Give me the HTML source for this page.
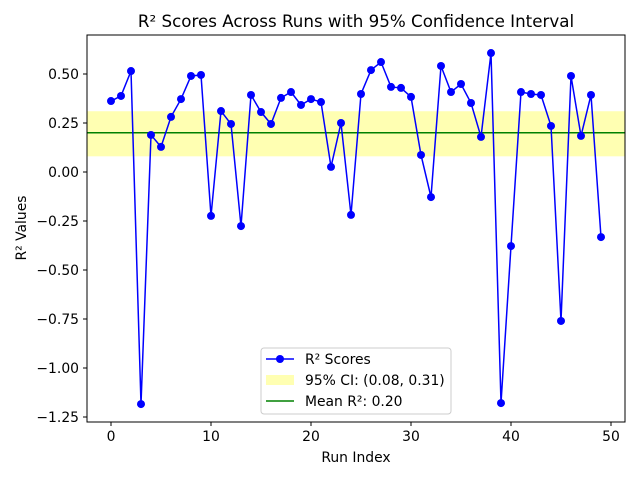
<!DOCTYPE html>
<html><head><meta charset="utf-8"><style>
body{margin:0;background:#fff;}
svg text{font-family:"DejaVu Sans","Liberation Sans",sans-serif;}
</style></head><body>
<svg id="chart" width="640" height="480" xmlns="http://www.w3.org/2000/svg">
<rect width="640" height="480" fill="#fff"/>
<text x="356" y="27" font-size="16.7" text-anchor="middle">R² Scores Across Runs with 95% Confidence Interval</text>
<g id="plot"></g>
<text x="356" y="462" font-size="13.9" text-anchor="middle">Run Index</text>
<text transform="translate(26,228) rotate(-90)" font-size="13.9" text-anchor="middle">R² Values</text>
<g>
<rect x="261" y="348" width="190" height="66" rx="3" fill="#fff" fill-opacity="0.8" stroke="#ccc"/>
<line x1="266" y1="359" x2="294" y2="359" stroke="blue" stroke-width="1.5"/>
<circle cx="280" cy="359" r="4" fill="blue"/>
<text x="305" y="364" font-size="13.9">R² Scores</text>
<rect x="266" y="375" width="28" height="10" fill="yellow" fill-opacity="0.3"/>
<text x="305" y="385" font-size="13.9">95% CI: (0.08, 0.31)</text>
<line x1="266" y1="401" x2="294" y2="401" stroke="green" stroke-width="1.5"/>
<text x="305" y="406" font-size="13.9">Mean R²: 0.20</text>
</g>
</svg>
<script>
const scores=[0.362,0.388,0.515,-1.184,0.189,0.128,0.281,0.372,0.49,0.495,-0.224,0.311,0.245,-0.276,0.393,0.306,0.245,0.378,0.408,0.342,0.372,0.357,0.026,0.25,-0.219,0.398,0.52,0.561,0.434,0.429,0.383,0.087,-0.128,0.541,0.408,0.449,0.352,0.179,0.607,-1.179,-0.378,0.408,0.398,0.393,0.235,-0.76,0.49,0.184,0.393,-0.332];
const ciBounds=[0.08,0.31];
const meanValue=[0.20];
const xTicks=[0,10,20,30,40,50];
const yTicks=[0.5,0.25,0,-0.25,-0.5,-0.75,-1,-1.25];
const yTickLabels=["0.50","0.25","0.00","−0.25","−0.50","−0.75","−1.00","−1.25"];
const L=87,R=625,T=35,B=422;
const X=v=>111+v*10;
const Y=v=>172-v*196;
const NS="http://www.w3.org/2000/svg";
const g=document.getElementById('plot');
function mk(t,a){const e=document.createElementNS(NS,t);for(const k in a)e.setAttribute(k,a[k]);g.appendChild(e);return e;}
let e=mk('rect',{x:L,y:Y(ciBounds[1]),width:R-L,height:Y(ciBounds[0])-Y(ciBounds[1]),fill:'yellow','fill-opacity':0.3});


e=mk('line',{x1:L,x2:R,y1:Y(meanValue[0]),y2:Y(meanValue[0]),stroke:'green','stroke-width':1.5});


e=mk('polyline',{points:scores.map((v,i)=>X(i)+','+Y(v)).join(' '),fill:'none',stroke:'blue','stroke-width':1.5});


scores.forEach((v,i)=>{const c=mk('circle',{cx:X(i),cy:Y(v),r:4,fill:'blue'});

});
e=mk('rect',{x:L,y:T,width:R-L,height:B-T,fill:'none',stroke:'#000','stroke-width':1});


xTicks.forEach(t=>{mk('line',{x1:X(t),x2:X(t),y1:B,y2:B+4,stroke:'#000'});
const tx=mk('text',{x:X(t),y:B+19,'font-size':13.9,'text-anchor':'middle'});tx.textContent=t;

});
yTicks.forEach((t,i)=>{mk('line',{x1:L-4,x2:L,y1:Y(t),y2:Y(t),stroke:'#000'});
const tx=mk('text',{x:L-8,y:Y(t)+5,'font-size':13.9,'text-anchor':'end'});tx.textContent=yTickLabels[i];

});
</script>
</body></html>
